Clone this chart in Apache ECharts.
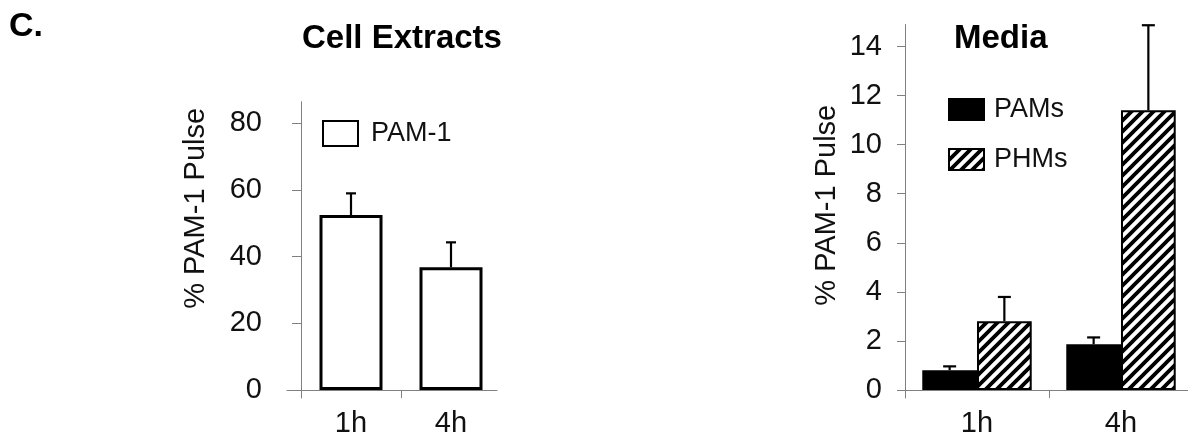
<!DOCTYPE html>
<html>
<head>
<meta charset="utf-8">
<script src="https://cdn.jsdelivr.net/npm/echarts@6/dist/echarts.min.js"></script>
<style>
html,body{margin:0;padding:0;background:#fff;}
#chart{width:1188px;height:434px;}
</style>
</head>
<body>
<div id="chart"></div>
<script>
// ---- data ----
const categories = ['1h', '4h'];
const cellMeans = [52.5, 36.8];
const cellErrs = [6.5, 7.5];
const pamsMeans = [0.8, 1.86];
const pamsErrs = [0.16, 0.28];
const phmsMeans = [2.8, 11.4];
const phmsErrs = [0.99, 3.47];
const cellTicks = [0, 20, 40, 60, 80];
const mediaTicks = [0, 2, 4, 6, 8, 10, 12, 14];
const cellBoundary = [1];

// ---- styles ----
const FONT = 'Liberation Sans, Arial, sans-serif';
const AXIS_GRAY = '#808080';
const TXT = '#111';
const MEDIA_GAP = 0.24;

// hatch pattern
const hatch = document.createElement('canvas');
hatch.width = 11; hatch.height = 11;
(function () {
  const c = hatch.getContext('2d');
  const s = 11;
  c.fillStyle = '#fff'; c.fillRect(0, 0, s, s);
  c.strokeStyle = '#000'; c.lineWidth = 3.8; c.lineCap = 'square';
  c.beginPath();
  c.moveTo(-2, s + 2); c.lineTo(s + 2, -2);
  c.moveTo(-s, s); c.lineTo(s, -s);
  c.moveTo(0, 2 * s); c.lineTo(2 * s, 0);
  c.stroke();
})();
const hatchFill = { image: hatch, repeat: 'repeat' };

function errRender(sign, capW, barFrac) {
  return function (params, api) {
    const i = api.value(0), m = api.value(1), e = api.value(2);
    const band = api.size([1, 0])[0];
    const bw = band * barFrac;
    const base = api.coord([i, m]);
    const top = api.coord([i, m + e]);
    const x = base[0] + sign * bw / 2;
    const st = { stroke: '#000', lineWidth: 2.2 };
    return {
      type: 'group',
      children: [
        { type: 'line', shape: { x1: x, y1: base[1], x2: x, y2: top[1] }, style: st },
        { type: 'line', shape: { x1: x - capW / 2, y1: top[1], x2: x + capW / 2, y2: top[1] }, style: st }
      ]
    };
  };
}
const errData = (means, errs) => means.map((m, i) => [i, m, errs[i]]);

const labelStyle = { fontFamily: FONT, fontSize: 29, color: TXT };

const option = {
  animation: false,
  backgroundColor: '#fff',
  title: [
    { text: 'C.', left: 9, top: 10, padding: 0, textStyle: { fontFamily: FONT, fontSize: 34, fontWeight: 'bold', color: '#000' } },
    { text: 'Cell Extracts', left: 302, top: 22, padding: 0, textStyle: { fontFamily: FONT, fontSize: 33, fontWeight: 'bold', color: '#000' } },
    { text: 'Media', left: 954, top: 22, padding: 0, textStyle: { fontFamily: FONT, fontSize: 33, fontWeight: 'bold', color: '#000' } }
  ],
  legend: [
    {
      data: ['PAM-1'], left: 322, top: 120, padding: 0, icon: 'rect',
      itemWidth: 35, itemHeight: 25, selectedMode: false,
      textStyle: { fontFamily: FONT, fontSize: 27, color: TXT, padding: [0, 0, 0, 8] }
    },
    {
      data: ['PAMs', 'PHMs'], orient: 'vertical', left: 948, top: 96, padding: 0, icon: 'rect',
      itemWidth: 35, itemHeight: 21, itemGap: 23, selectedMode: false,
      textStyle: { fontFamily: FONT, fontSize: 27, color: TXT, lineHeight: 21, padding: [0, 0, 0, 5] }
    }
  ],
  grid: [
    { left: 301, width: 200, top: 101.7, bottom: 36, outerBoundsMode: 'none', containLabel: false },   // cell bars
    { left: 287, width: 210, top: 101.7, bottom: 36, outerBoundsMode: 'none', containLabel: false },   // cell frame
    { left: 905, width: 288, top: 24.5, bottom: 36, outerBoundsMode: 'none', containLabel: false }     // media
  ],
  xAxis: [
    {
      gridIndex: 0, type: 'category', data: categories,
      axisLine: { show: false }, axisTick: { show: false },
      axisLabel: Object.assign({ margin: 11 }, labelStyle)
    },
    {
      gridIndex: 1, type: 'value', min: -0.14, max: 1.96,
      axisLine: { show: true, onZero: true, lineStyle: { color: AXIS_GRAY, width: 1 } },
      axisTick: { show: true, length: 8, customValues: cellBoundary, lineStyle: { color: AXIS_GRAY } },
      axisLabel: { show: false }, splitLine: { show: false }
    },
    {
      gridIndex: 2, type: 'category', data: categories,
      axisLine: { show: true, onZero: true, lineStyle: { color: AXIS_GRAY, width: 1 } },
      axisTick: { show: true, length: 8, lineStyle: { color: AXIS_GRAY } },
      axisLabel: Object.assign({ margin: 11 }, labelStyle)
    }
  ],
  yAxis: [
    { gridIndex: 0, type: 'value', min: -2.4, max: 86.5, show: false },
    {
      gridIndex: 1, type: 'value', min: -2.4, max: 86.5,
      name: '% PAM-1 Pulse', nameLocation: 'middle', nameGap: 77, nameMoveOverlap: false,
      nameTextStyle: { fontFamily: FONT, fontSize: 29, color: TXT, padding: [0, 0, 0, 83] },
      axisLine: { show: true, lineStyle: { color: AXIS_GRAY, width: 1 } },
      axisTick: { show: true, length: 9, customValues: cellTicks, lineStyle: { color: AXIS_GRAY } },
      axisLabel: Object.assign({ margin: 25, customValues: cellTicks }, labelStyle),
      splitLine: { show: false }
    },
    {
      gridIndex: 2, type: 'value', min: -0.33, max: 14.9,
      name: '% PAM-1 Pulse', nameLocation: 'middle', nameGap: 64, nameMoveOverlap: false,
      nameTextStyle: { fontFamily: FONT, fontSize: 29, color: TXT, padding: [0, 0, 0, 12] },
      axisLine: { show: true, lineStyle: { color: AXIS_GRAY, width: 1 } },
      axisTick: { show: true, length: 8, customValues: mediaTicks, lineStyle: { color: AXIS_GRAY } },
      axisLabel: Object.assign({ margin: 23, customValues: mediaTicks }, labelStyle),
      splitLine: { show: false }
    }
  ],
  series: [
    {
      name: 'PAM-1', type: 'bar', xAxisIndex: 0, yAxisIndex: 0, data: cellMeans,
      barWidth: '63%',
      itemStyle: { color: '#fff', borderColor: '#000', borderWidth: 3 }
    },
    {
      type: 'custom', xAxisIndex: 0, yAxisIndex: 0, data: errData(cellMeans, cellErrs),
      encode: { x: 0, y: 1 }, renderItem: errRender(0, 10, 0), z: 1
    },
    {
      name: 'PAMs', type: 'bar', xAxisIndex: 2, yAxisIndex: 2, data: pamsMeans,
      barGap: '0%', barCategoryGap: (MEDIA_GAP * 100) + '%',
      itemStyle: { color: '#000', borderColor: '#000', borderWidth: 2 }
    },
    {
      name: 'PHMs', type: 'bar', xAxisIndex: 2, yAxisIndex: 2, data: phmsMeans,
      barGap: '0%', barCategoryGap: (MEDIA_GAP * 100) + '%',
      itemStyle: { color: hatchFill, borderColor: '#000', borderWidth: 2 }
    },
    {
      type: 'custom', xAxisIndex: 2, yAxisIndex: 2, data: errData(pamsMeans, pamsErrs),
      encode: { x: 0, y: 1 }, renderItem: errRender(-1, 13, (1 - MEDIA_GAP) / 2), z: 1
    },
    {
      type: 'custom', xAxisIndex: 2, yAxisIndex: 2, data: errData(phmsMeans, phmsErrs),
      encode: { x: 0, y: 1 }, renderItem: errRender(1, 13, (1 - MEDIA_GAP) / 2), z: 1
    }
  ]
};

const chart = echarts.init(document.getElementById('chart'), null, { renderer: 'canvas' });
chart.setOption(option);
</script>
</body>
</html>
